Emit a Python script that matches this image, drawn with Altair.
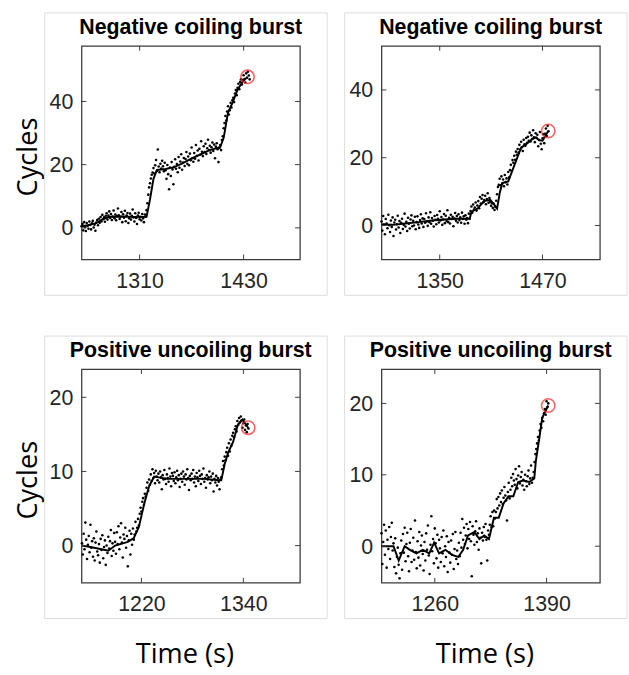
import altair as alt
import pandas as pd

# ---------------- data ----------------
TITLES = ["Negative coiling burst", "Negative coiling burst",
          "Positive uncoiling burst", "Positive uncoiling burst"]

X_DOMAINS = [[1243, 1495], [1282, 1537], [1149.5, 1406.6], [1198, 1452]]
Y_DOMAINS = [[-10, 57.6], [-10, 53], [-5, 23.8], [-5.1, 24.8]]
X_TICKS = [[1310, 1430], [1350, 1470], [1220, 1340], [1260, 1390]]
Y_TICKS = [[0, 20, 40], [0, 20, 40], [0, 10, 20], [0, 10, 20]]

# raw samples (one per second)
P1_START = 1243
P1_VALUES = [
    0.5, 1.2, -0.8, 1.8, 0.2, -1.0, 1.5, 0.6, -0.3, 2.0,
    0.9, -0.5, 1.4, 2.2, 0.1, 1.0, -0.9, 1.7, 2.5, 0.8,
    2.9, 1.6, 3.4, 2.0, 4.1, 2.7, 3.3, 1.9, 3.8, 4.6,
    2.6, 3.9, 5.2, 3.1, 4.4, 2.5, 3.6, 5.5, 3.0, 4.2,
    2.4, 3.7, 6.1, 4.0, 2.8, 3.5, 5.0, 1.8, 4.3, 3.2,
    5.4, 2.1, 3.9, 4.7, 1.5, 3.0, 4.5, 2.6, 3.8, 5.8,
    3.3, 2.0, 4.6, 3.1, 1.2, 3.9, 4.8, 2.7, 3.5, 2.3,
    4.4, 3.0, 1.8, 4.2, 3.6, 5.6, 7.8, 10.5, 12.8, 14.1,
    15.6, 16.8, 17.5, 18.9, 17.2, 19.8, 21.5, 18.0, 24.8, 19.4,
    17.6, 20.3, 18.8, 21.2, 19.5, 17.9, 20.6, 18.2, 15.5, 19.9,
    17.0, 12.2, 19.1, 16.4, 20.8, 18.5, 13.8, 19.3, 21.7, 18.7,
    20.2, 17.6, 22.4, 19.0, 21.0, 23.3, 18.4, 20.7, 22.1, 19.6,
    21.8, 24.0, 20.3, 22.6, 19.8, 23.5, 21.4, 25.4, 22.0, 20.9,
    23.7, 21.9, 26.2, 22.8, 24.5, 21.3, 25.0, 23.2, 27.4, 24.1,
    22.7, 25.8, 24.0, 26.6, 23.4, 25.2, 27.9, 24.6, 26.0, 23.8,
    25.5, 27.0, 24.3, 26.4, 22.0, 25.7, 26.8, 24.9, 20.8, 25.3,
    26.2, 24.6, 27.8, 29.0, 31.5, 33.2, 35.4, 34.0, 36.8, 38.5,
    35.9, 37.2, 39.6, 38.1, 40.4, 41.2, 39.8, 42.5, 43.6, 42.0,
    44.3, 45.6, 43.9, 46.2, 47.0, 45.4, 46.8, 48.3, 47.1, 46.0,
    48.9, 47.5, 49.4, 48.2, 47.0,
]
P2_START = 1282
P2_VALUES = [
    1.2, -1.5, 2.8, 0.3, -2.6, 1.9, 0.6, -0.8, 3.2, 0.1,
    -1.9, 1.5, -0.4, 2.4, -3.1, 0.9, 1.7, -1.2, 0.4, 2.9,
    -0.6, 1.3, -2.2, 0.8, 2.0, -1.0, 0.2, 3.5, -0.3, 1.1,
    -1.6, 2.3, 0.5, -0.9, 1.8, 3.0, -0.2, 1.4, 0.0, 2.6,
    -1.1, 1.0, 2.7, 0.3, -0.7, 1.6, 3.3, 0.6, 2.1, -0.4,
    1.9, 0.8, 3.6, 1.2, -0.1, 2.4, 1.0, 3.9, 0.5, 2.2,
    1.4, -0.3, 2.8, 1.7, 0.4, 3.1, 2.0, 0.9, 4.2, 1.5,
    2.5, 0.2, 1.8, 3.4, 0.7, 2.9, 1.3, 4.5, 1.0, 2.3,
    0.6, 3.2, 1.9, 2.6, -0.2, 2.1, 3.7, 1.4, 2.8, 0.9,
    3.3, 1.6, 2.4, 0.8, 3.8, 1.9, 2.7, 0.5, 3.0, 1.7,
    2.2, 0.7, 3.5, 2.0, 4.3, 5.6, 3.8, 6.2, 4.7, 5.3,
    6.8, 4.4, 5.9, 7.2, 5.1, 8.4, 6.5, 7.9, 9.0, 6.9,
    7.5, 8.8, 6.3, 7.8, 9.5, 6.7, 8.1, 7.0, 5.8, 6.6,
    5.2, 6.4, 4.6, 5.5, 7.3, 9.2, 11.4, 12.0, 13.8, 11.9,
    14.5, 12.3, 13.6, 11.6, 14.9, 12.8, 13.9, 12.1, 15.8, 14.2,
    16.4, 17.9, 16.1, 19.3, 18.5, 20.6, 19.4, 21.8, 20.9, 22.6,
    21.5, 23.8, 22.4, 24.7, 23.1, 22.0, 25.3, 24.0, 23.5, 25.8,
    24.4, 26.2, 25.0, 27.4, 24.8, 26.6, 25.5, 28.1, 26.0, 24.6,
    27.2, 25.9, 26.8, 23.4, 25.2, 27.6, 24.1, 22.5, 25.7, 26.9,
    24.3, 27.1, 28.6, 26.4, 29.4, 27.8,
]
P3_START = 1150
P3_VALUES = [
    0.3, -1.2, 1.6, -0.5, 3.1, 0.8, -1.8, 0.1, 1.3, -0.9,
    2.8, -0.3, 0.6, -1.5, 1.0, -2.0, 0.4, 1.9, -0.8, -1.3,
    0.2, -2.3, 0.9, -0.6, 1.4, -1.7, -0.2, 0.7, -2.6, 0.0,
    -1.0, 1.2, -0.4, 0.6, 2.1, -1.4, 0.3, -0.7, 1.7, 0.5,
    -1.1, 1.8, 0.2, 2.6, -0.5, 1.1, 3.0, 0.4, -1.6, 1.5,
    0.9, 2.4, -0.3, 1.3, -2.8, 0.7, 2.0, -1.2, 1.6, 0.1,
    2.3, 0.8, 1.5, 3.2, 1.9, 2.4, 3.6, 2.7, 4.3, 5.1,
    4.6, 5.9, 6.4, 5.5, 7.0, 6.6, 7.8, 8.5, 7.4, 8.9,
    8.2, 9.6, 8.7, 10.3, 9.1, 9.8, 8.4, 10.1, 9.3, 8.8,
    9.7, 8.5, 10.0, 9.2, 7.6, 9.5, 8.9, 10.2, 9.0, 8.3,
    9.6, 9.1, 8.6, 10.4, 9.3, 8.0, 9.8, 9.4, 8.7, 9.9,
    8.4, 9.2, 10.1, 8.8, 9.5, 7.9, 9.0, 9.7, 8.6, 10.0,
    9.3, 8.2, 9.6, 8.9, 10.3, 9.1, 7.5, 9.4, 8.8, 9.7,
    9.0, 10.2, 8.5, 9.3, 8.0, 9.8, 9.2, 8.7, 10.1, 9.4,
    8.3, 9.6, 9.0, 10.4, 8.6, 9.1, 7.8, 9.5, 8.9, 9.2,
    10.0, 8.4, 9.3, 8.8, 9.7, 7.3, 9.0, 8.5, 9.4, 8.1,
    9.1, 8.6, 7.6, 8.9, 9.2, 10.3, 11.4, 10.8, 12.0, 11.5,
    12.6, 13.2, 12.1, 13.8, 12.7, 14.3, 13.5, 14.8, 15.2, 14.6,
    15.7, 16.1, 15.4, 16.8, 16.3, 17.2, 16.6, 17.4, 16.9, 15.9,
    16.5, 17.0, 15.6, 16.2, 15.3, 16.4, 15.8,
]
P4_START = 1198
P4_VALUES = [
    1.8, -2.5, 0.6, 3.0, -1.2, 2.2, -3.0, 0.9, -0.4, 2.7,
    -1.8, 1.3, 3.3, -0.6, 0.4, -2.9, 1.1, -3.8, -1.5, -0.2,
    -2.6, -4.5, -1.0, 0.8, -3.3, 1.7, -0.9, 2.6, -2.1, 0.3,
    1.9, -1.4, -3.5, 0.5, 2.4, -2.2, -0.6, 1.2, -1.9, 3.6,
    -0.8, -3.1, 0.7, -1.6, 2.0, -2.7, 0.1, 1.5, -1.1, -3.4,
    0.6, -2.0, 1.8, -0.5, 2.9, -1.3, -3.9, 0.2, 4.2, -0.7,
    1.0, -2.4, 2.5, 0.4, -1.7, 1.6, -3.0, 0.9, -0.3, -2.2,
    1.3, -1.0, 2.2, -2.8, 0.0, -1.5, 1.4, -3.6, 0.6, -0.9,
    -2.3, 0.8, -1.2, 1.7, -3.2, -0.4, 2.0, -1.8, -0.6, -2.5,
    0.5, -1.4, 1.9, -0.2, 3.8, 0.9, 2.6, 0.3, 1.5, 3.1,
    -0.3, 2.4, 1.0, 3.4, 0.7, -4.2, 2.8, 1.6, 0.2, 2.1,
    3.5, 0.6, 1.8, -0.5, 2.5, 1.2, -2.4, 1.9, 0.8, 2.7,
    1.3, 3.1, 0.9, -2.0, 2.2, 1.6, 3.0, 4.2, 2.7, 4.8,
    2.8, 5.0, 3.9, 4.8, 6.6, 5.3, 6.9, 5.7, 7.4, 6.2,
    7.8, 5.9, 6.8, 8.3, 7.1, 6.4, 3.6, 7.6, 8.9, 6.7,
    7.9, 9.6, 8.4, 10.1, 9.2, 8.6, 10.8, 9.4, 8.1, 9.9,
    11.2, 8.8, 9.7, 10.4, 8.5, 9.3, 7.9, 10.0, 9.1, 8.4,
    9.8, 10.6, 8.7, 9.5, 11.3, 8.9, 9.6, 10.4, 11.8, 12.9,
    13.6, 14.4, 15.3, 14.8, 16.2, 17.1, 16.6, 18.0, 17.5, 18.6,
    19.2, 18.4, 20.3, 19.5, 20.0,
]
STARTS = [P1_START, P2_START, P3_START, P4_START]
VALUES = [P1_VALUES, P2_VALUES, P3_VALUES, P4_VALUES]

# smoothed traces
P1_LINE_T = [1243, 1250, 1260, 1268, 1275, 1290, 1305, 1318, 1322, 1326, 1330, 1340,
             1350, 1360, 1370, 1380, 1390, 1403, 1407, 1412, 1417, 1423, 1429, 1434.5]
P1_LINE_Y = [0.5, 0.8, 1.5, 2.8, 3.5, 3.6, 3.4, 3.5, 9.0, 15.5, 18.3, 18.6,
             19.2, 20.5, 22.0, 23.2, 24.5, 25.5, 28.5, 36.5, 39.5, 43.7, 46.3, 47.8]
P2_LINE_T = [1282, 1295, 1310, 1325, 1341, 1355, 1370, 1385, 1387, 1394, 1402, 1409,
             1414, 1417, 1420, 1423, 1430, 1436, 1445, 1451, 1457, 1462, 1466, 1470, 1476.7]
P2_LINE_Y = [0.3, 0.2, 0.6, 1.0, 1.5, 1.8, 2.0, 2.0, 4.0, 5.0, 7.2, 7.6,
             6.0, 5.0, 9.5, 12.5, 13.0, 17.0, 23.0, 24.0, 25.3, 26.0, 25.2, 25.0, 27.9]
P3_LINE_T = [1150, 1160, 1173, 1181, 1189, 1204, 1211, 1217, 1223, 1229, 1235, 1250,
             1273, 1295, 1311, 1314, 1318, 1322, 1328, 1333.5, 1339, 1345.7]
P3_LINE_Y = [0.0, -0.2, -0.5, -0.7, 0.0, 0.5, 1.0, 2.5, 5.5, 8.0, 9.3, 9.0,
             9.0, 9.0, 8.8, 8.8, 11.0, 12.5, 14.0, 16.3, 17.0, 15.9]
P4_LINE_T = [1198, 1212, 1218, 1225, 1231, 1238.6, 1246, 1253.6, 1259.2, 1265, 1272.4,
             1280, 1287.4, 1293, 1298.7, 1306, 1311.9, 1317.5, 1323, 1328.8, 1334.4,
             1340, 1345.7, 1351.3, 1357, 1362.6, 1370, 1375.7, 1377.6, 1381.4, 1385, 1391.9]
P4_LINE_Y = [0.0, 0.0, -2.0, 0.0, -0.5, -1.0, -0.5, -1.0, 0.5, -1.0, -0.5,
             -1.2, -1.5, -0.5, 1.5, 2.0, 1.0, 1.5, 1.0, 4.0, 4.0,
             6.0, 7.0, 7.0, 9.0, 9.2, 9.0, 9.5, 12.0, 15.0, 18.0, 19.7]
LINES_T = [P1_LINE_T, P2_LINE_T, P3_LINE_T, P4_LINE_T]
LINES_Y = [P1_LINE_Y, P2_LINE_Y, P3_LINE_Y, P4_LINE_Y]

# burst end markers
END_T = [1434.5, 1476.7, 1345.7, 1391.9]
END_Y = [47.8, 27.9, 15.9, 19.7]

# ---------------- styling ----------------
W, H = 225, 220
LABEL_FONT = "Liberation Sans"
BIG_FONT = "Open Sans"
FRAME = "#3a3a3a"


def panel(i, ytitle, xtitle):
    xs = alt.Scale(domain=X_DOMAINS[i], nice=False, zero=False)
    ys = alt.Scale(domain=Y_DOMAINS[i], nice=False, zero=False)
    vals = VALUES[i]
    pts = pd.DataFrame({"t": [STARTS[i] + k for k in range(len(vals))], "v": vals})
    line = pd.DataFrame({"t": LINES_T[i], "v": LINES_Y[i]})
    end = pd.DataFrame({"t": [END_T[i]], "v": [END_Y[i]]})
    xt = pd.DataFrame({"t": X_TICKS[i]})
    yt = pd.DataFrame({"v": Y_TICKS[i]})

    xaxis_kw = dict(values=X_TICKS[i], format="d", ticks=False, grid=False, domain=False,
                    labelPadding=12, labelFontSize=22, labelFont=LABEL_FONT,
                    labelColor="#262626")
    yaxis_kw = dict(values=Y_TICKS[i], format="d", ticks=False, grid=False, domain=False,
                    labelPadding=9, labelFontSize=22, labelFont=LABEL_FONT,
                    labelColor="#262626")
    if xtitle:
        xaxis_kw.update(titleFont=BIG_FONT, titleFontSize=28, titleX=106,
                        titleFontWeight="normal", titleColor="black", titlePadding=27)
    if ytitle:
        yaxis_kw.update(titleFont=BIG_FONT, titleFontSize=28, titleY=114,
                        titleFontWeight="normal", titleColor="black", titlePadding=7)

    X = alt.X("t:Q", scale=xs, axis=alt.Axis(**xaxis_kw), title=xtitle if xtitle else None)
    Y = alt.Y("v:Q", scale=ys, axis=alt.Axis(**yaxis_kw), title=ytitle if ytitle else None)

    box = alt.Chart(pd.DataFrame({"a": [0]})).mark_rect(
        filled=False, stroke="#dcdcdc", strokeWidth=1
    ).encode(x=alt.value(-38), x2=alt.value(W + 28), y=alt.value(-34), y2=alt.value(H + 37))

    dots = alt.Chart(pts).mark_circle(size=7, color="black", opacity=1).encode(x=X, y=Y)
    trace = alt.Chart(line).mark_line(color="black", strokeWidth=2).encode(x=X, y=Y)
    tick_kw = dict(color=FRAME, strokeWidth=1)
    xb = alt.Chart(xt).mark_rule(**tick_kw).encode(x=X, y=alt.value(H), y2=alt.value(H - 5))
    xtp = alt.Chart(xt).mark_rule(**tick_kw).encode(x=X, y=alt.value(0), y2=alt.value(5))
    yl = alt.Chart(yt).mark_rule(**tick_kw).encode(y=Y, x=alt.value(0), x2=alt.value(5))
    yr = alt.Chart(yt).mark_rule(**tick_kw).encode(y=Y, x=alt.value(W), x2=alt.value(W - 5))
    ring = alt.Chart(end).mark_point(shape="circle", size=190, filled=False,
                                     color="#ff1f1f", strokeWidth=1.6).encode(x=X, y=Y)

    return alt.layer(box, dots, trace, xb, xtp, yl, yr, ring).properties(
        width=W, height=H,
        title=alt.TitleParams(text=TITLES[i], fontSize=22, font=LABEL_FONT,
                              fontWeight="bold", color="black", anchor="middle",
                              frame="group", baseline="alphabetic", offset=-44),
    )


p1 = panel(0, "Cycles", "")
p2 = panel(1, "", "")
p3 = panel(2, "Cycles", "Time (s)")
p4 = panel(3, "", "Time (s)")

top = alt.hconcat(p1, p2, spacing=14)
bottom = alt.hconcat(p3, p4, spacing=14)
chart = alt.vconcat(top, bottom, spacing=38).properties(
    padding={"left": 14, "top": 1, "right": 0, "bottom": 0},
    background="white",
).configure_view(stroke=FRAME, strokeWidth=1.3)

chart.save("out.html", embed_options={"renderer": "svg", "actions": False})
